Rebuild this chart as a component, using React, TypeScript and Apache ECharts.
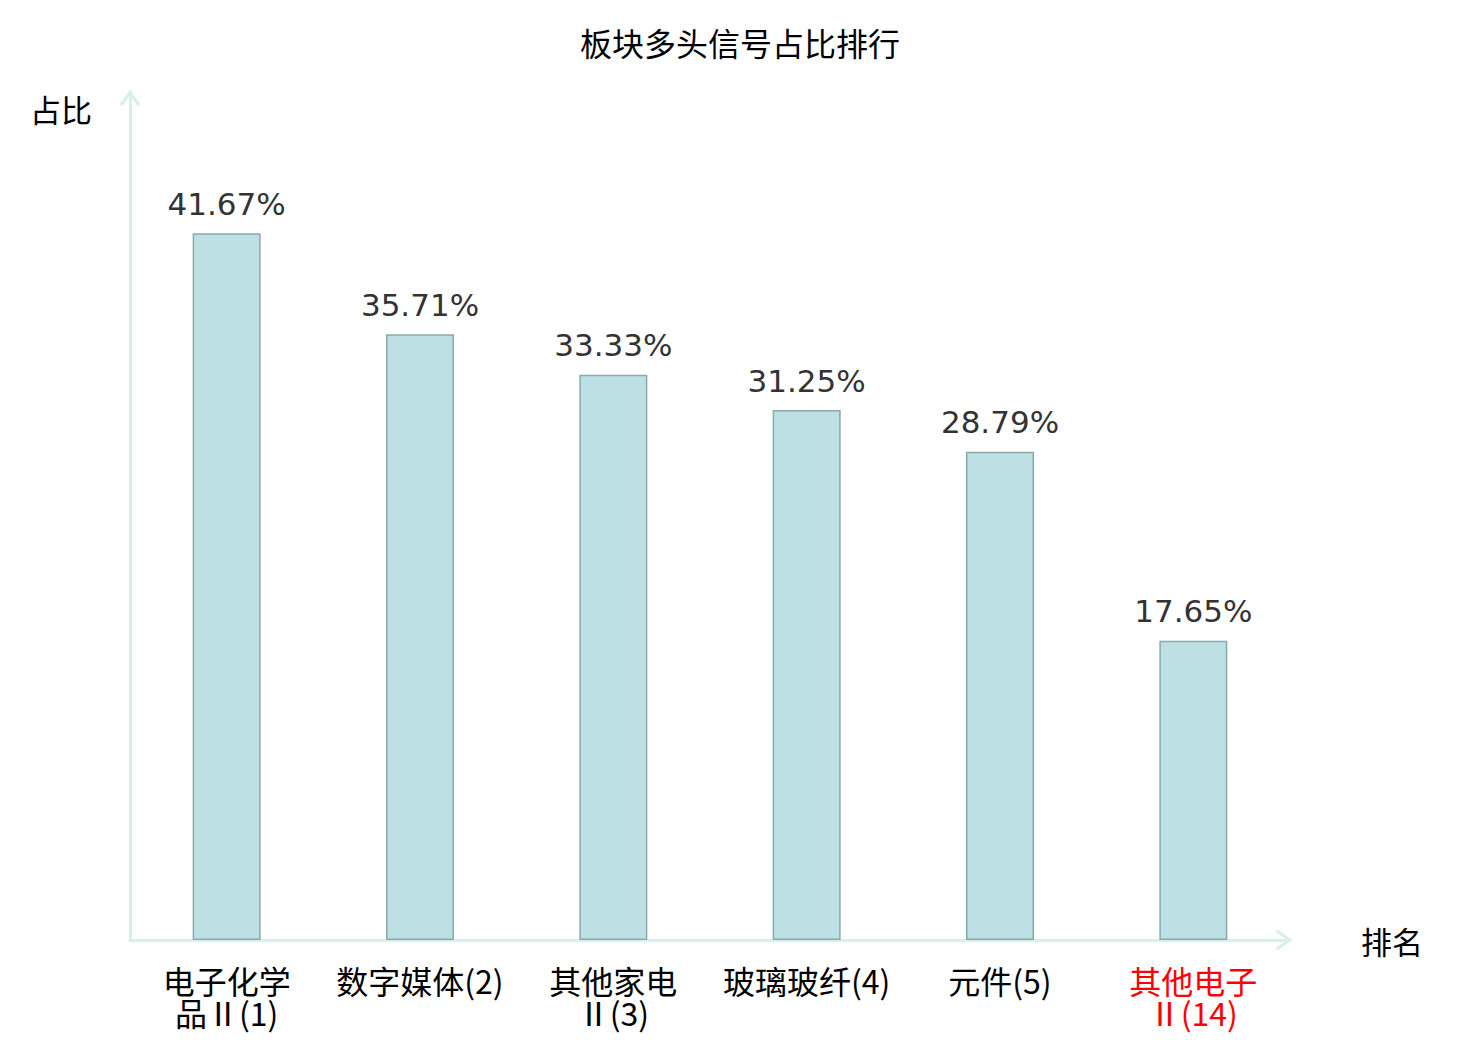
import React, { useEffect, useRef } from "react";
import * as echarts from "echarts";

const titleText = "板块多头信号占比排行";
const categories = [
  "电子化学\n品Ⅱ(1)",
  "数字媒体(2)",
  "其他家电\nⅡ(3)",
  "玻璃玻纤(4)",
  "元件(5)",
  "其他电子\nⅡ(14)",
];
const values = [41.67, 35.71, 33.33, 31.25, 28.79, 17.65];
const highlightIndex = 5;
const yAxisName = "占比";
const xAxisName = "排名";

const AXIS_COLOR = "#d9efec";
const CHEVRON = "path://M10,0 L20,14 L17.4,15.9 L10,5.4 L2.6,15.9 L0,14 Z";
const CJK = "'Noto Sans CJK SC', sans-serif";

export default function App() {
  const ref = useRef<HTMLDivElement>(null);
  useEffect(() => {
    document.body.style.margin = "0";
    if (!ref.current) return;
    const chart = echarts.init(ref.current, undefined, { renderer: "svg" });
    chart.setOption({
      animation: false,
      backgroundColor: "#ffffff",
      title: {
        text: titleText,
        left: "center",
        top: 21,
        textStyle: { fontFamily: CJK, fontSize: 32, fontWeight: "normal", color: "#000" },
      },
      grid: { left: 130, right: 190, top: 92, bottom: 100, containLabel: false, outerBoundsMode: "none" },
      xAxis: {
        type: "category",
        data: categories.map((c, i) =>
          i === highlightIndex ? { value: c, textStyle: { color: "#ff0000" } } : c
        ),
        name: xAxisName,
        nameLocation: "end",
        nameGap: 71,
        nameTextStyle: { fontFamily: CJK, fontSize: 31, color: "#000", verticalAlign: "middle" },
        axisLine: {
          show: true,
          symbol: ["none", CHEVRON],
          symbolSize: [21, 16.7],
          symbolOffset: [0, -6],
          lineStyle: { color: AXIS_COLOR, width: 3 },
        },
        axisTick: { show: false },
        axisLabel: {
          interval: 0,
          margin: 24,
          fontFamily: CJK,
          fontSize: 32,
          lineHeight: 32,
          color: "#000",
        },
      },
      yAxis: {
        type: "value",
        min: 0,
        max: 50,
        name: yAxisName,
        nameLocation: "end",
        nameGap: -16,
        nameTextStyle: {
          fontFamily: CJK,
          fontSize: 31,
          color: "#000",
          align: "right",
          verticalAlign: "middle",
          padding: [0, 38, 0, 0],
        },
        axisLine: {
          show: true,
          symbol: ["none", CHEVRON],
          symbolSize: [21, 16.7],
          symbolOffset: [0, -6],
          lineStyle: { color: AXIS_COLOR, width: 3 },
        },
        axisTick: { show: false },
        axisLabel: { show: false },
        splitLine: { show: false },
      },
      series: [
        {
          type: "bar",
          data: values,
          barWidth: 68,
          itemStyle: { color: "#bce0e3", borderColor: "#8aa9aa", borderWidth: 1.5 },
          label: {
            show: true,
            position: "top",
            distance: 14,
            fontFamily: "'DejaVu Sans', sans-serif",
            fontSize: 31,
            color: "#333",
            formatter: (p: any) => Number(p.value).toFixed(2) + "%",
          },
        },
      ],
    });
    return () => chart.dispose();
  }, []);
  return <div ref={ref} style={{ width: 1480, height: 1040 }} />;
}
